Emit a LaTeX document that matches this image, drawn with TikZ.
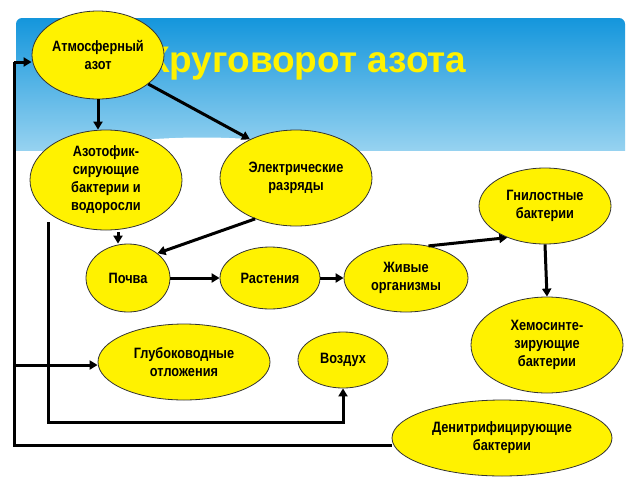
\documentclass[tikz,border=0pt]{standalone}
\usepackage{fontspec}
\setmainfont{Liberation Sans}
\newfontfamily\narf[FakeStretch=0.85]{Liberation Sans}
\begin{document}
\begin{tikzpicture}[x=1pt,y=-1pt,
  el/.style={ellipse,draw=black!80,fill=yellow,line width=0.8pt,inner sep=-8pt,align=center,font=\narf\bfseries\fontsize{15}{18}\selectfont},
  ar/.style={line width=3pt,-{Triangle[length=8pt,width=9pt]}},
  ln/.style={line width=3pt}]
\usetikzlibrary{shapes.geometric,arrows.meta}
\useasboundingbox (0,0) rectangle (640,480);
\fill[white] (0,0) rectangle (640,480);
\begin{scope}
\clip[rounded corners=6pt] (16,18) rectangle (625,478);
\shade[top color={rgb,255:red,20;green,150;blue,220}, bottom color={rgb,255:red,150;green,210;blue,240}] (16,18) rectangle (625,150);
\fill[white] (16,160) .. controls (150,130) and (250,130) .. (400,160) .. controls (500,180) and (580,170) .. (625,160) -- (625,478) -- (16,478) -- cycle;
\end{scope}
\node[text=yellow,font=\bfseries\fontsize{37}{40}\selectfont,anchor=east] (title) at (470,64) {Круговорот азота};
\node[el,minimum width=132pt,minimum height=88pt] (atm) at (98,55) {Атмосферный\\азот};
\node[el,minimum width=152pt,minimum height=100pt] (fix) at (106,180) {Азотофик-\\сирующие\\бактерии и\\водоросли};
\node[el,minimum width=152pt,minimum height=96pt] (ele) at (296,178) {Электрические\\разряды};
\node[el,minimum width=132pt,minimum height=76pt] (gni) at (545,206) {Гнилостные\\бактерии};
\node[el,minimum width=84pt,minimum height=68pt] (poc) at (128,278) {Почва};
\node[el,minimum width=100pt,minimum height=62pt] (ras) at (270,278) {Растения};
\node[el,minimum width=124pt,minimum height=68pt] (zhi) at (406,278) {Живые\\организмы};
\node[el,minimum width=152pt,minimum height=96pt] (hem) at (547,345) {Хемосинте-\\зирующие\\бактерии};
\node[el,minimum width=172pt,minimum height=76pt] (glu) at (184,362) {Глубоководные\\отложения};
\node[el,minimum width=90pt,minimum height=56pt] (voz) at (343,360) {Воздух};
\node[el,minimum width=220pt,minimum height=76pt] (den) at (502,438) {Денитрифицирующие\\бактерии};
\coordinate (o1) at (14,445);
\coordinate (o2) at (14,62);
\coordinate (o3) at (14,365);
\coordinate (i1) at (48,222);
\coordinate (i2) at (48,422);
\coordinate (i3) at (343,422);
\coordinate (a1) at (98,99);
\coordinate (a2) at (118,232);
\draw[ar] (a1) -- (a1 |- fix.north);
\draw[ar] (atm.-30) -- (ele.140);
\draw[ar] (ele.-135) -- (poc.40);
\draw[ar] (a2) -- (a2 |- poc.north);
\draw[ar] (poc) -- (ras);
\draw[ar] (ras) -- (zhi);
\draw[ar] (zhi.55) -- (gni.-140);
\draw[ar] (gni.south) -- (hem.north);
\draw[ln] (den.west |- o1) -- (o1) -- (o2);
\draw[ar] (o2) -- (atm.west |- o2);
\draw[ar] (o3) -- (glu.west |- o3);
\draw[ar] (i1) -- (i2) -- (i3) -- (voz.south);
\end{tikzpicture}
\end{document}
